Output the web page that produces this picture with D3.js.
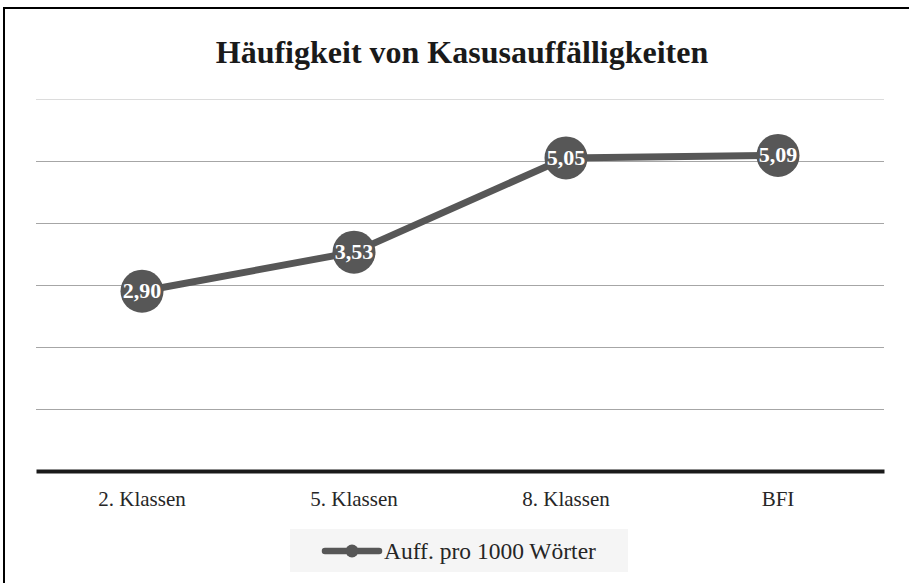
<!DOCTYPE html>
<html><head><meta charset="utf-8">
<script src="https://cdn.jsdelivr.net/npm/d3@7"></script>
<style>html,body{margin:0;padding:0;background:#fff;overflow:hidden}</style>
</head><body>
<svg id="c" width="909" height="583"></svg>
<script>
const categories = ["2. Klassen", "5. Klassen", "8. Klassen", "BFI"];
const values = [2.90, 3.53, 5.05, 5.09];
const valueLabels = ["2,90", "3,53", "5,05", "5,09"];
const yTicks = [0, 1, 2, 3, 4, 5, 6];
const title = "Häufigkeit von Kasusauffälligkeiten";
const seriesName = "Auff. pro 1000 Wörter";

const svg = d3.select("#c");
const font = "'Liberation Serif','Times New Roman',serif";
const col = "#575757";

svg.append("rect").attr("x", 4).attr("y", 8).attr("width", 920).attr("height", 600)
  .attr("fill", "#fff").attr("stroke", "#000").attr("stroke-width", 2);

const x = d3.scaleBand().domain(categories).range([36, 884]);
const y = d3.scaleLinear().domain([0, 6]).range([471, 99]);

svg.append("text").attr("x", 462).attr("y", 63).attr("text-anchor", "middle")
  .attr("font-family", font).attr("font-weight", "bold").attr("font-size", 32)
  .attr("fill", "#1a1a1a").text(title);

const grid = svg.append("g").attr("transform", "translate(36,0)")
  .call(d3.axisLeft(y).tickValues(yTicks.slice(1)).tickSize(-848).tickFormat(""));
grid.select(".domain").remove();
grid.selectAll(".tick line").attr("stroke", d => d === 6 ? "#dcdcdc" : "#a6a6a6").attr("stroke-width", 1.2);

const xa = svg.append("g").attr("transform", "translate(0,471)")
  .call(d3.axisBottom(x).tickSize(0).tickPadding(20));
xa.select(".domain").attr("stroke", "#1a1a1a").attr("stroke-width", 4);
xa.selectAll("text").attr("font-family", font).attr("font-size", 21).attr("fill", "#262626");

const pts = categories.map((c, i) => [x(c) + x.bandwidth() / 2, y(values[i])]);
svg.append("path").attr("d", d3.line()(pts)).attr("fill", "none")
  .attr("stroke", col).attr("stroke-width", 7).attr("stroke-linejoin", "round");

const g = svg.selectAll(".pt").data(pts).join("g");
g.append("circle").attr("cx", d => d[0]).attr("cy", d => d[1]).attr("r", 21.5).attr("fill", col);
g.append("text").attr("x", d => d[0]).attr("y", d => d[1] + 7).attr("text-anchor", "middle")
  .attr("font-family", font).attr("font-weight", "bold").attr("font-size", 22).attr("fill", "#fff")
  .text((d, i) => valueLabels[i]);

const lg = svg.append("g");
lg.append("rect").attr("x", 290).attr("y", 529).attr("width", 338).attr("height", 43).attr("fill", "#f5f5f5");
lg.append("line").attr("x1", 325).attr("x2", 379).attr("y1", 551).attr("y2", 551)
  .attr("stroke", col).attr("stroke-width", 6.5).attr("stroke-linecap", "round");
lg.append("circle").attr("cx", 352).attr("cy", 551).attr("r", 6.5).attr("fill", col);
lg.append("text").attr("x", 384).attr("y", 559).attr("font-family", font).attr("font-size", 23.5)
  .attr("fill", "#262626").text(seriesName);
</script>
</body></html>
